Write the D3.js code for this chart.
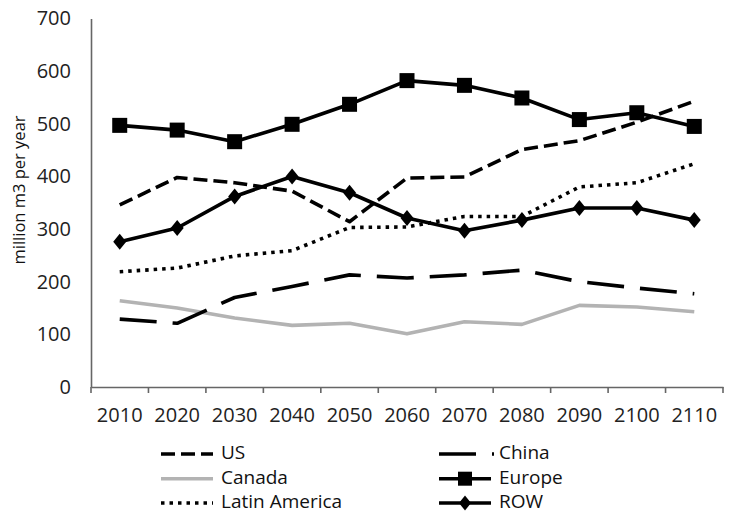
<!DOCTYPE html>
<html>
<head>
<meta charset="utf-8">
<script src="https://cdn.jsdelivr.net/npm/d3@7"></script>
<style>
  html, body { margin: 0; padding: 0; background: #fff; }
  svg { display: block; font-family: "Open Sans", sans-serif; }
</style>
</head>
<body>
<svg id="chart" width="735" height="521"></svg>
<script>
const years = ["2010","2020","2030","2040","2050","2060","2070","2080","2090","2100","2110"];
const yTicks = [0,100,200,300,400,500,600,700];
const usValues      = [346, 398, 388, 372, 314, 397, 399, 451, 468, 503, 543];
const chinaValues   = [129, 121, 170, 191, 213, 207, 213, 222, 200, 188, 177];
const canadaValues  = [164, 150, 131, 117, 121, 101, 124, 119, 155, 152, 143];
const europeValues  = [497, 488, 466, 499, 537, 582, 573, 549, 508, 521, 495];
const latinValues   = [219, 226, 249, 259, 303, 304, 324, 324, 380, 388, 424];
const rowValues     = [276, 302, 362, 400, 369, 321, 297, 317, 340, 340, 317];
const seriesNames = ["US","China","Canada","Europe","Latin America","ROW"];

const styles = {
  "US":            {color:"#000", width:3.6, dash:"14,6", marker:null},
  "China":         {color:"#000", width:3.6, dash:"37,16", marker:null},
  "Canada":        {color:"#b3b3b3", width:3.6, dash:null, marker:null},
  "Europe":        {color:"#000", width:3.6, dash:null, marker:"square"},
  "Latin America": {color:"#000", width:3.6, dash:"3.5,5", marker:null},
  "ROW":           {color:"#000", width:3.6, dash:null, marker:"diamond"}
};
const valuesByName = {
  "US": usValues, "China": chinaValues, "Canada": canadaValues,
  "Europe": europeValues, "Latin America": latinValues, "ROW": rowValues
};

const svg = d3.select("#chart");
const plotLeft = 91, plotRight = 723, plotTop = 18.5, plotBottom = 387;

const x = d3.scaleBand().domain(years).range([plotLeft, plotRight]);
const y = d3.scaleLinear().domain([0,700]).range([plotBottom, plotTop]);
const axisColor = "#666";

// X axis
const xAxis = svg.append("g").attr("transform", `translate(0,${plotBottom})`)
  .call(d3.axisBottom(x).tickSize(0).tickPadding(21));
xAxis.select(".domain").attr("stroke", axisColor).attr("stroke-width", 1.6);
xAxis.selectAll("text").attr("font-size", 20).attr("fill", "#222").attr("font-family", "Open Sans");
// boundary ticks
const bounds = years.map(d => x(d)).concat([plotRight]);
svg.append("g").selectAll("line").data(bounds).join("line")
  .attr("x1", d => d).attr("x2", d => d)
  .attr("y1", plotBottom).attr("y2", plotBottom + 6)
  .attr("stroke", axisColor).attr("stroke-width", 1.6);

// Y axis
const yAxis = svg.append("g").attr("transform", `translate(${plotLeft},0)`)
  .call(d3.axisLeft(y).tickValues(yTicks).tickSize(0).tickPadding(20));
yAxis.select(".domain").attr("stroke", axisColor).attr("stroke-width", 1.6);
yAxis.selectAll("text").attr("font-size", 20).attr("fill", "#222").attr("font-family", "Open Sans");

// Y title
svg.append("text")
  .attr("transform", `translate(21,190) rotate(-90)`)
  .attr("text-anchor", "middle").attr("dominant-baseline", "middle")
  .attr("font-size", 16.5).attr("fill", "#111")
  .text("million m3 per year");

const line = d3.line().x((d,i) => x(years[i]) + x.bandwidth()/2).y(d => y(d));

const drawOrder = ["Canada","China","Latin America","US","ROW","Europe"];
drawOrder.forEach(name => {
  const st = styles[name];
  const vals = valuesByName[name];
  svg.append("path").datum(vals)
    .attr("d", line)
    .attr("fill", "none")
    .attr("stroke", st.color)
    .attr("stroke-width", st.width)
    .attr("stroke-linejoin", "round")
    .attr("stroke-dasharray", st.dash);
  if (st.marker === "square") {
    svg.append("g").selectAll("rect").data(vals).join("rect")
      .attr("x", (d,i) => x(years[i]) + x.bandwidth()/2 - 7.5)
      .attr("y", d => y(d) - 7.5)
      .attr("width", 15).attr("height", 15).attr("fill", "#000");
  } else if (st.marker === "diamond") {
    svg.append("g").selectAll("path").data(vals).join("path")
      .attr("transform", (d,i) => `translate(${x(years[i]) + x.bandwidth()/2},${y(d)})`)
      .attr("d", "M0,-8L6.5,0L0,8L-6.5,0Z").attr("fill", "#000");
  }
});

// Legend
const legendItems = [
  {name:"US", col:0, row:0}, {name:"China", col:1, row:0},
  {name:"Canada", col:0, row:1}, {name:"Europe", col:1, row:1},
  {name:"Latin America", col:0, row:2}, {name:"ROW", col:1, row:2}
];
const colX = [161, 439], rowY = [454, 478.7, 503];
const sampleLen = 52;
const leg = svg.append("g");
legendItems.forEach(it => {
  const st = styles[it.name];
  const x0 = colX[it.col], yy = rowY[it.row];
  leg.append("line")
    .attr("x1", x0).attr("x2", x0 + (it.name === "China" ? 55 : sampleLen))
    .attr("y1", yy).attr("y2", yy)
    .attr("stroke", st.color).attr("stroke-width", st.width)
    .attr("stroke-dasharray", st.dash);
  const cx = x0 + sampleLen/2;
  if (st.marker === "square") {
    leg.append("rect").attr("x", cx - 7).attr("y", yy - 7).attr("width", 14).attr("height", 14).attr("fill", "#000");
  } else if (st.marker === "diamond") {
    leg.append("path").attr("transform", `translate(${cx},${yy})`)
      .attr("d", "M0,-7.5L6,0L0,7.5L-6,0Z").attr("fill", "#000");
  }
  leg.append("text")
    .attr("x", x0 + 60).attr("y", yy)
    .attr("dominant-baseline", "middle")
    .attr("font-size", 19).attr("fill", "#111")
    .text(it.name);
});
</script>
</body>
</html>
